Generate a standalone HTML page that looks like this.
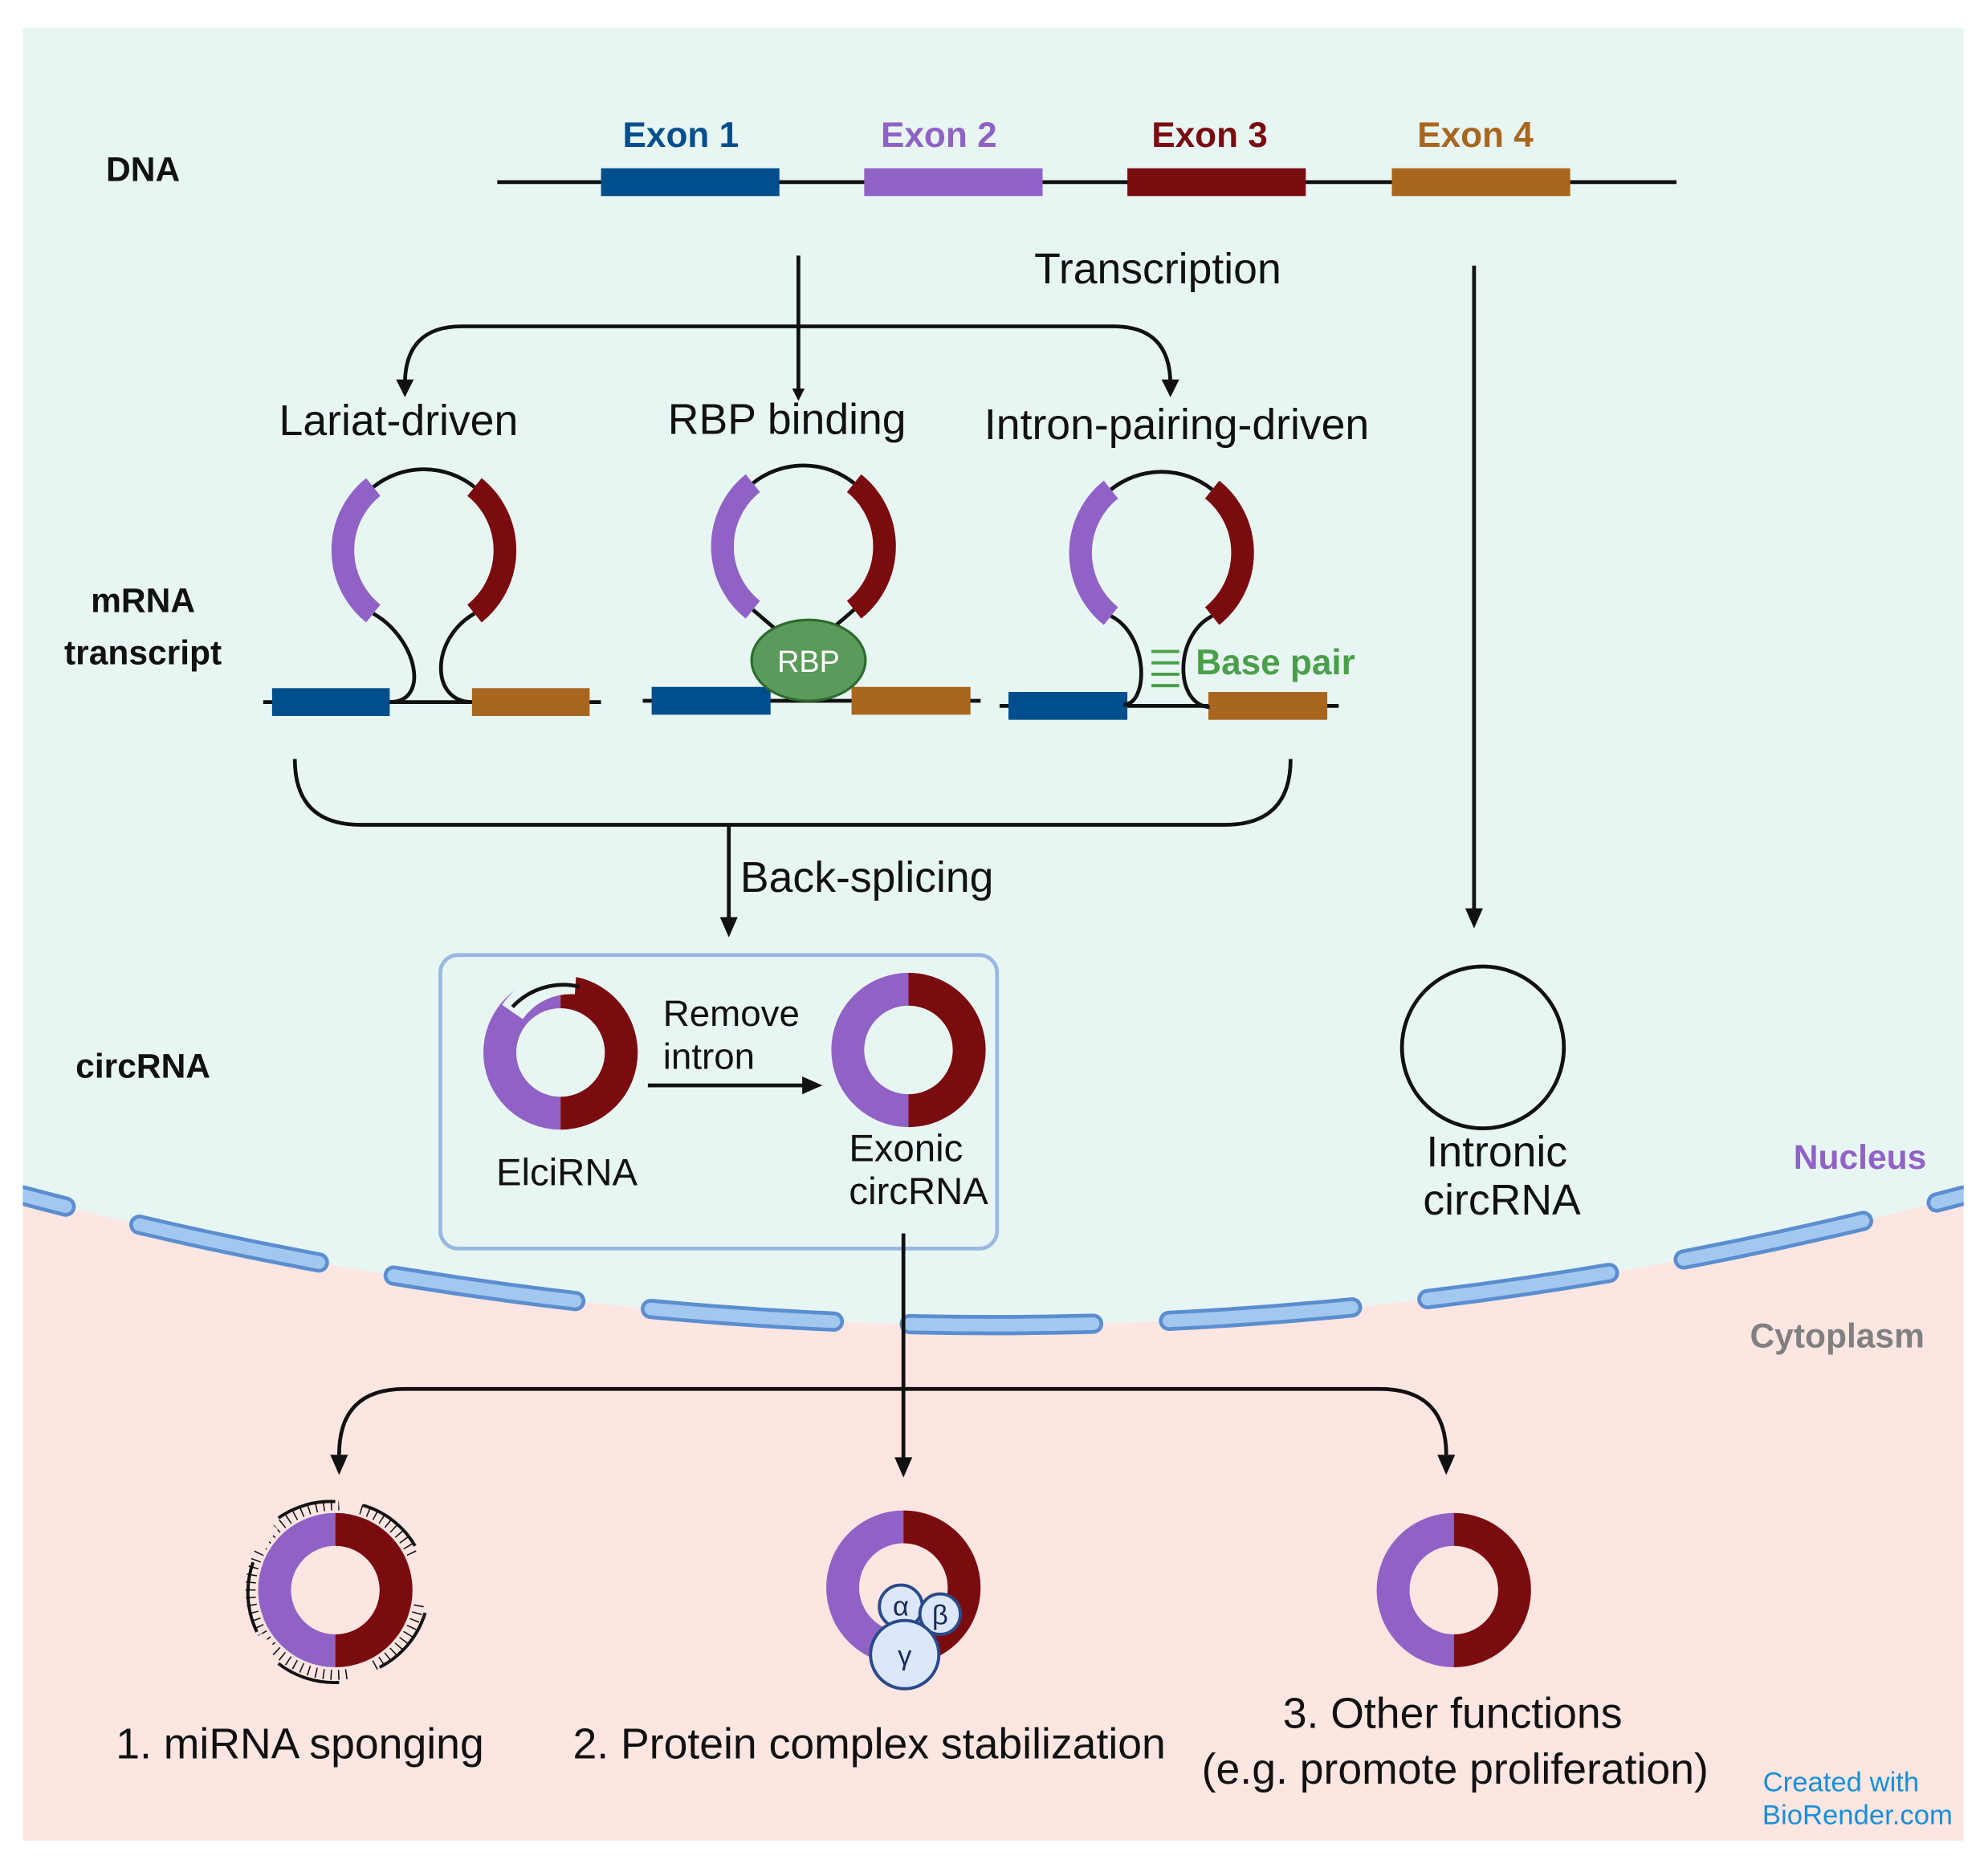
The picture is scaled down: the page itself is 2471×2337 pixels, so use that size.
<!DOCTYPE html>
<html><head><meta charset="utf-8"><style>html,body{margin:0;padding:0;background:#fff}svg{display:block}text{font-family:"Liberation Sans",sans-serif}</style></head><body>
<svg width="2471" height="2337" viewBox="0 0 1568 1483" xmlns="http://www.w3.org/2000/svg">
<defs>
<marker id="ah" markerWidth="10" markerHeight="10" refX="5" refY="5" orient="auto" markerUnits="userSpaceOnUse" viewBox="0 0 10 10"><path d="M0,0 L10,5 L0,10 z" fill="#111"/></marker>
</defs>
<rect x="0" y="0" width="1568" height="1483" fill="#fff"/>
<rect x="18" y="22" width="1534" height="1433" fill="#fde6e1"/>
<path d="M18,22 H1552 V945 Q785,1150 18,945 Z" fill="#e8f6f3"/>
<!-- membrane -->
<path d="M18,945 Q785,1150 1552,945" fill="none" stroke="#5b8ed0" stroke-width="16" stroke-dasharray="145 60" stroke-dashoffset="110" stroke-linecap="round"/>
<path d="M18,945 Q785,1150 1552,945" fill="none" stroke="#a3c8ef" stroke-width="10" stroke-dasharray="145 60" stroke-dashoffset="110" stroke-linecap="round"/>
<rect x="0" y="0" width="18" height="1483" fill="#fff"/><rect x="1552" y="0" width="16" height="1483" fill="#fff"/>

<!-- DNA -->
<text x="113" y="143" font-size="27" font-weight="bold" text-anchor="middle" fill="#111">DNA</text>
<line x1="393" y1="144" x2="1325" y2="144" stroke="#111" stroke-width="3"/>
<rect x="475" y="133" width="141" height="22" fill="#004f8c"/>
<rect x="683" y="133" width="141" height="22" fill="#9162c6"/>
<rect x="891" y="133" width="141" height="22" fill="#7a0c10"/>
<rect x="1100" y="133" width="141" height="22" fill="#a8661e"/>
<g font-size="28" font-weight="bold" text-anchor="middle">
<text x="538" y="116" fill="#004f8c">Exon 1</text>
<text x="742" y="116" fill="#9162c6">Exon 2</text>
<text x="956" y="116" fill="#7a0c10">Exon 3</text>
<text x="1166" y="116" fill="#a8661e">Exon 4</text>
</g>
<text x="915" y="224" font-size="34" text-anchor="middle" fill="#111">Transcription</text>
<line x1="631" y1="202" x2="631" y2="312" stroke="#111" stroke-width="3" marker-end="url(#ah)"/>
<path d="M320,304 Q320,258 365,258 L880,258 Q925,258 925,304" fill="none" stroke="#111" stroke-width="3"/>
<polygon points="313,300 327,300 320,314" fill="#111"/>
<polygon points="918,300 932,300 925,314" fill="#111"/>
<line x1="1165" y1="210" x2="1165" y2="730" stroke="#111" stroke-width="3"/>
<polygon points="1158,718 1172,718 1165,734" fill="#111"/>

<g font-size="34" text-anchor="middle" fill="#111">
<text x="315" y="344">Lariat-driven</text>
<text x="622" y="343">RBP binding</text>
<text x="930" y="347">Intron-pairing-driven</text>
</g>
<text x="113" y="484" font-size="27" font-weight="bold" text-anchor="middle" fill="#111">mRNA</text>
<text x="113" y="525" font-size="27" font-weight="bold" text-anchor="middle" fill="#111">transcript</text>

<!-- structure 1 -->
<line x1="208" y1="555" x2="475" y2="555" stroke="#111" stroke-width="3"/>
<rect x="215" y="544" width="93" height="22" fill="#004f8c"/>
<rect x="373" y="544" width="93" height="22" fill="#a8661e"/>
<g transform="translate(335,435)" fill="none">
<path d="M-40,-50 A64,64 0 0 1 40,-50" stroke="#111" stroke-width="3"/>
<path d="M-40,50 C-5,70 5,120 -27,120" stroke="#111" stroke-width="3"/>
<path d="M40,50 C5,70 5,120 38,120" stroke="#111" stroke-width="3"/>
<path d="M-40,-50 A64,64 0 0 0 -40,50" stroke="#9162c6" stroke-width="18"/>
<path d="M40,-50 A64,64 0 0 1 40,50" stroke="#7a0c10" stroke-width="18"/>
</g>
<!-- structure 2 -->
<line x1="508" y1="554" x2="775" y2="554" stroke="#111" stroke-width="3"/>
<rect x="515" y="543" width="94" height="22" fill="#004f8c"/>
<rect x="673" y="543" width="94" height="22" fill="#a8661e"/>
<g transform="translate(635,432)" fill="none">
<path d="M-40,-50 A64,64 0 0 1 40,-50" stroke="#111" stroke-width="3"/>
<path d="M-40,50 L-5,80 M40,50 L5,80" stroke="#111" stroke-width="3"/>
<path d="M-40,-50 A64,64 0 0 0 -40,50" stroke="#9162c6" stroke-width="18"/>
<path d="M40,-50 A64,64 0 0 1 40,50" stroke="#7a0c10" stroke-width="18"/>
</g>
<ellipse cx="639" cy="522" rx="45" ry="32" fill="#5a9a5a" stroke="#2e6a2e" stroke-width="2"/>
<text x="639" y="531" font-size="24" text-anchor="middle" fill="#fff">RBP</text>
<!-- structure 3 -->
<line x1="790" y1="558" x2="1058" y2="558" stroke="#111" stroke-width="3"/>
<rect x="797" y="547" width="94" height="22" fill="#004f8c"/>
<rect x="955" y="547" width="94" height="22" fill="#a8661e"/>
<g transform="translate(918,437)" fill="none">
<path d="M-40,-50 A64,64 0 0 1 40,-50" stroke="#111" stroke-width="3"/>
<path d="M-40,50 C-10,65 -10,120 -30,120" stroke="#111" stroke-width="3"/>
<path d="M40,50 C10,65 10,120 38,122" stroke="#111" stroke-width="3"/>
<path d="M-40,-50 A64,64 0 0 0 -40,50" stroke="#9162c6" stroke-width="18"/>
<path d="M40,-50 A64,64 0 0 1 40,50" stroke="#7a0c10" stroke-width="18"/>
</g>
<g stroke="#4aa04a" stroke-width="2.5"><line x1="910" y1="515" x2="932" y2="515"/><line x1="910" y1="524" x2="932" y2="524"/><line x1="910" y1="533" x2="932" y2="533"/><line x1="910" y1="542" x2="932" y2="542"/></g>
<text x="945" y="533" font-size="28" font-weight="bold" fill="#4aa04a">Base pair</text>

<!-- bracket -->
<path d="M233,600 Q233,652 285,652 L968,652 Q1020,652 1020,600" fill="none" stroke="#111" stroke-width="3"/>
<line x1="576" y1="652" x2="576" y2="728" stroke="#111" stroke-width="3"/>
<polygon points="569,725 583,725 576,741" fill="#111"/>
<text x="585" y="705" font-size="34" fill="#111">Back-splicing</text>

<text x="113" y="852" font-size="27" font-weight="bold" text-anchor="middle" fill="#111">circRNA</text>
<rect x="348" y="755" width="440" height="232" rx="14" fill="none" stroke="#9ab8e0" stroke-width="3"/>
<g fill="none" stroke-width="26">
<path d="M443,784 A48,48 0 0 0 443,880" stroke="#9162c6"/>
<path d="M443,784 A48,48 0 0 1 443,880" stroke="#7a0c10"/>
</g>
<path d="M405,800 A56,56 0 0 1 455,776" fill="none" stroke="#e8f6f3" stroke-width="20"/>
<path d="M405,796 A55,55 0 0 1 458,780" fill="none" stroke="#111" stroke-width="3"/>
<text x="448" y="937" font-size="30" text-anchor="middle" fill="#111">ElciRNA</text>
<text x="524" y="811" font-size="29" fill="#111">Remove</text>
<text x="524" y="845" font-size="29" fill="#111">intron</text>
<line x1="512" y1="858" x2="636" y2="858" stroke="#111" stroke-width="3"/>
<polygon points="634,851 650,858 634,865" fill="#111"/>
<g fill="none" stroke-width="26">
<path d="M718,782 A48,48 0 0 0 718,878" stroke="#9162c6"/>
<path d="M718,782 A48,48 0 0 1 718,878" stroke="#7a0c10"/>
</g>
<text x="716" y="918" font-size="30" text-anchor="middle" fill="#111">Exonic</text>
<text x="726" y="952" font-size="30" text-anchor="middle" fill="#111">circRNA</text>

<circle cx="1172" cy="828" r="64" fill="none" stroke="#111" stroke-width="3"/>
<text x="1183" y="922" font-size="34" text-anchor="middle" fill="#111">Intronic</text>
<text x="1187" y="960" font-size="34" text-anchor="middle" fill="#111">circRNA</text>
<text x="1470" y="924" font-size="27" font-weight="bold" text-anchor="middle" fill="#9162c6">Nucleus</text>
<text x="1452" y="1065" font-size="27" font-weight="bold" text-anchor="middle" fill="#808080">Cytoplasm</text>

<!-- bottom -->
<line x1="714" y1="975" x2="714" y2="1155" stroke="#111" stroke-width="3"/>
<polygon points="707,1152 721,1152 714,1168" fill="#111"/>
<path d="M268,1150 Q268,1098 320,1098 L1090,1098 Q1143,1098 1143,1150" fill="none" stroke="#111" stroke-width="3"/>
<polygon points="261,1150 275,1150 268,1166" fill="#111"/>
<polygon points="1136,1150 1150,1150 1143,1166" fill="#111"/>

<g fill="none" stroke-width="26">
<path d="M265,1209 A48,48 0 0 0 265,1305" stroke="#9162c6"/>
<path d="M265,1209 A48,48 0 0 1 265,1305" stroke="#7a0c10"/>
<path d="M714,1207 A48,48 0 0 0 714,1303" stroke="#9162c6"/>
<path d="M714,1207 A48,48 0 0 1 714,1303" stroke="#7a0c10"/>
<path d="M1149,1209 A48,48 0 0 0 1149,1305" stroke="#9162c6"/>
<path d="M1149,1209 A48,48 0 0 1 1149,1305" stroke="#7a0c10"/>
</g>
<!-- miRNA -->
<g fill="none" stroke="#111" stroke-width="2.5">
<path d="M220,1200 A72,72 0 0 1 265,1187"/>
<path d="M287,1190 A70,70 0 0 1 328,1222"/>
<path d="M336,1275 A72,72 0 0 1 300,1318"/>
<path d="M268,1330 A72,72 0 0 1 220,1315"/>
<path d="M203,1290 A72,72 0 0 1 200,1235"/>
</g>
<circle cx="265" cy="1257" r="67" fill="none" stroke-width="8" stroke="#111" stroke-dasharray="1 5"/>
<g fill="none" stroke="#fde6e1" stroke-width="12">
<path d="M268,1190 A67,67 0 0 1 284,1191"/>
<path d="M329,1232 A67,67 0 0 1 332,1266"/>
<path d="M293,1320 A67,67 0 0 1 275,1324"/>
<path d="M212,1305 A67,67 0 0 1 202,1295"/>
<path d="M203,1225 A67,67 0 0 1 215,1205"/>
</g>
<!-- proteins -->
<g fill="#dce8fa" stroke="#2a4a8a" stroke-width="2.5">
<circle cx="712" cy="1270" r="17"/>
<circle cx="743" cy="1276" r="16"/>
<circle cx="715" cy="1308" r="27"/>
</g>
<g font-size="22" text-anchor="middle" fill="#1a2a5a">
<text x="712" y="1277">α</text><text x="743" y="1284">β</text><text x="715" y="1316">γ</text>
</g>

<g font-size="34" text-anchor="middle" fill="#111">
<text x="237" y="1390">1. miRNA sponging</text>
<text x="687" y="1390">2. Protein complex  stabilization</text>
<text x="1148" y="1366">3. Other functions</text>
<text x="1150" y="1410">(e.g. promote proliferation)</text>
</g>
<text x="1455" y="1416" font-size="22" text-anchor="middle" fill="#1a8fd6">Created with</text>
<text x="1468" y="1442" font-size="22" text-anchor="middle" fill="#1a8fd6">BioRender.com</text>
</svg>
</body></html>
